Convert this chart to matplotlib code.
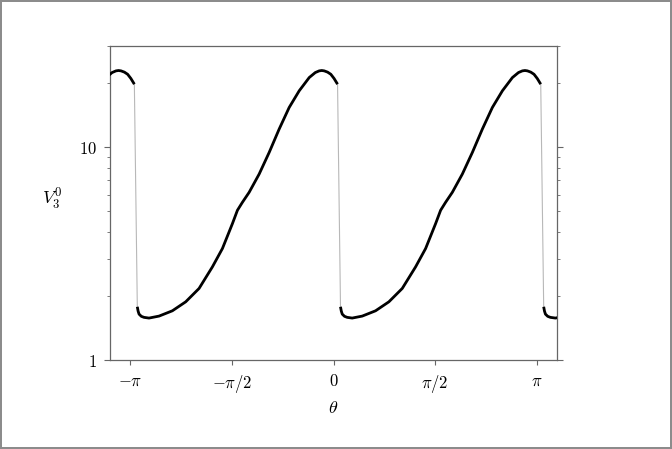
import numpy as np
import matplotlib
matplotlib.use("Agg")
import matplotlib.pyplot as plt

plt.rcParams['mathtext.fontset'] = 'cm'
plt.rcParams['font.family'] = 'serif'
plt.rcParams['font.serif'] = ['DejaVu Serif']

# one period of the curve (theta, V)
theta_period = [0.108, 0.120, 0.135, 0.170, 0.212, 0.289, 0.444, 0.650, 0.856,
                1.063, 1.269, 1.424, 1.579, 1.656, 1.733, 1.837, 1.992, 2.147,
                2.301, 2.456, 2.611, 2.766, 2.860, 2.920, 2.960, 2.998, 3.050,
                3.100, 3.150, 3.204]
v_period = [1.78, 1.70, 1.644, 1.605, 1.587, 1.575, 1.609, 1.704, 1.878,
            2.171, 2.742, 3.345, 4.384, 5.062, 5.518, 6.148, 7.493, 9.473,
            12.19, 15.41, 18.46, 21.31, 22.5, 22.91, 23.0, 22.91, 22.6,
            22.08, 21.1, 19.83]
shifts = [-2, -1, 0, 1]

xticks = [-np.pi, -np.pi / 2, 0, np.pi / 2, np.pi]
xticklabels = [r'$-\pi$', r'$-\pi/2$', r'$0$', r'$\pi/2$', r'$\pi$']

fig = plt.figure(figsize=(6.72, 4.49), dpi=100)
fig.patch.set_edgecolor('0.55')
fig.patch.set_linewidth(1.5)
ax = fig.add_axes([0.1637, 0.1982, 0.6652, 0.6994])

tp = np.array(theta_period)
vp = np.array(v_period)

# thin grey line through everything (shows the jumps)
all_t = np.concatenate([tp + k * np.pi for k in shifts])
all_v = np.concatenate([vp for k in shifts])
ax.plot(all_t, all_v, color='0.72', lw=0.8, zorder=2)

# thick black branches
for k in shifts:
    ax.plot(tp + k * np.pi, vp, color='black', lw=2.0, zorder=3,
            solid_capstyle='butt', solid_joinstyle='round')

ax.set_yscale('log')
ax.set_xlim(-1.1 * np.pi, 1.1 * np.pi)
ax.set_ylim(1, 30)

ax.set_xticks(xticks)
ax.set_xticklabels(xticklabels)
ax.set_yticks([1, 10])
ax.set_yticklabels([r'$1$', r'$10$'])

for sp in ax.spines.values():
    sp.set_color('0.4')
    sp.set_linewidth(0.9)

ax.tick_params(axis='x', which='both', direction='out', length=3.5,
               color='0.4', labelsize=12, pad=6, top=False)
ax.tick_params(axis='x', which='minor', bottom=False)
ax.tick_params(axis='y', which='major', direction='out', length=4.5,
               color='0.4', labelsize=12, right=True, left=True, pad=5)
ax.tick_params(axis='y', which='minor', direction='out', length=2.5,
               color='0.4', right=True, left=True, labelleft=False)

ax.set_xlabel(r'$\theta$', fontsize=13, labelpad=3)
ax.set_ylabel(r'$V_3^0$', fontsize=13, rotation=0)
ax.yaxis.set_label_coords(-0.13, 0.47)

fig.savefig('out.png', dpi=100)
